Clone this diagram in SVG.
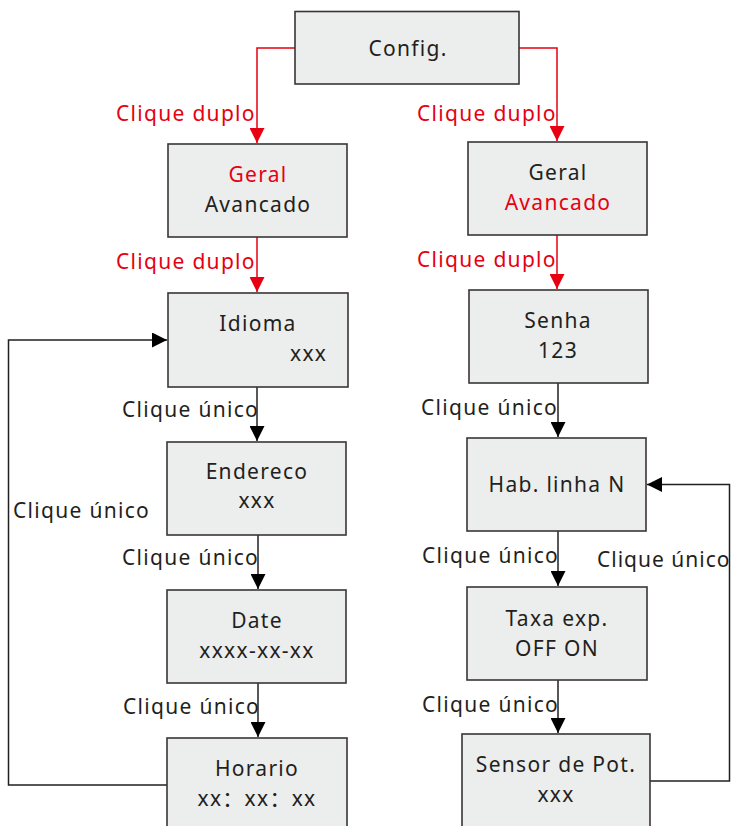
<svg xmlns="http://www.w3.org/2000/svg" width="731" height="826" viewBox="0 0 731 826">
<defs>
<style>
.box{fill:#eceded;stroke:#3a3536;stroke-width:1.6}
.t{font-family:"Noto Sans","DejaVu Sans",sans-serif;font-size:21px;letter-spacing:1.3px;fill:#231f20}
.c{text-anchor:middle}
.r{fill:#e60012}
.red{fill:none;stroke:#e60012;stroke-width:1.5}
.blk{fill:none;stroke:#231f20;stroke-width:1.5}
</style>
<marker id="ar" viewBox="0 0 10 10" refX="10" refY="5" markerWidth="15" markerHeight="15" markerUnits="userSpaceOnUse" orient="auto"><path d="M0,0L10,5L0,10z" fill="#e60012"/></marker>
<marker id="ab" viewBox="0 0 10 10" refX="10" refY="5" markerWidth="15" markerHeight="15" markerUnits="userSpaceOnUse" orient="auto"><path d="M0,0L10,5L0,10z" fill="#000"/></marker>
</defs>
<g id="connectors">
<path class="red" d="M295,48H257V143" marker-end="url(#ar)"/>
<path class="red" d="M519,48H557V141" marker-end="url(#ar)"/>
<path class="red" d="M257,237V292" marker-end="url(#ar)"/>
<path class="red" d="M557,235V289" marker-end="url(#ar)"/>
<path class="blk" d="M257,387V441" marker-end="url(#ab)"/>
<path class="blk" d="M258,535V589" marker-end="url(#ab)"/>
<path class="blk" d="M258,683V737" marker-end="url(#ab)"/>
<path class="blk" d="M167,785H8.5V340H167" marker-end="url(#ab)"/>
<path class="blk" d="M558,383V437" marker-end="url(#ab)"/>
<path class="blk" d="M558,531V586" marker-end="url(#ab)"/>
<path class="blk" d="M558,680V733" marker-end="url(#ab)"/>
<path class="blk" d="M650,781H729.5V484.5H647" marker-end="url(#ab)"/>
<text class="t r" x="116" y="121">Clique duplo</text>
<text class="t r" x="417" y="121">Clique duplo</text>
<text class="t r" x="116" y="269">Clique duplo</text>
<text class="t r" x="417" y="267">Clique duplo</text>
<text class="t" x="122" y="417">Clique único</text>
<text class="t" x="13" y="518">Clique único</text>
<text class="t" x="122" y="565">Clique único</text>
<text class="t" x="123" y="714">Clique único</text>
<text class="t" x="421" y="415">Clique único</text>
<text class="t" x="422" y="563">Clique único</text>
<text class="t" x="422" y="712">Clique único</text>
<text class="t" x="597" y="567" style="letter-spacing:1px">Clique único</text>
</g>
<g id="config"><rect class="box" x="295" y="11.5" width="224" height="72.5"/><text class="t c" x="408" y="56">Config.</text></g>
<g id="geral-left"><rect class="box" x="168" y="144" width="179" height="93"/><text class="t c r" x="258" y="182">Geral</text><text class="t c" x="258" y="212">Avancado</text></g>
<g id="geral-right"><rect class="box" x="468" y="142" width="179" height="93"/><text class="t c" x="558" y="180">Geral</text><text class="t c r" x="558" y="210">Avancado</text></g>
<g id="idioma"><rect class="box" x="168" y="293" width="180" height="94"/><text class="t c" x="258" y="331">Idioma</text><text class="t" x="290" y="361">xxx</text></g>
<g id="endereco"><rect class="box" x="167" y="442" width="179" height="93"/><text class="t c" x="257" y="479">Endereco</text><text class="t c" x="257" y="508">xxx</text></g>
<g id="date"><rect class="box" x="167" y="590" width="179" height="93"/><text class="t c" x="257" y="628">Date</text><text class="t c" x="257" y="658">xxxx-xx-xx</text></g>
<g id="horario"><rect class="box" x="167" y="738" width="180" height="100"/><text class="t c" x="257" y="776">Horario</text><text class="t c" x="257" y="806" style="font-family:'Noto Sans','Noto Sans CJK SC',sans-serif">xx：xx：xx</text></g>
<g id="senha"><rect class="box" x="469" y="290" width="179" height="93"/><text class="t c" x="558" y="328">Senha</text><text class="t c" x="558" y="358">123</text></g>
<g id="hab"><rect class="box" x="467" y="438" width="179" height="93"/><text class="t c" x="557" y="492">Hab. linha N</text></g>
<g id="taxa"><rect class="box" x="467" y="587" width="180" height="93"/><text class="t c" x="557" y="626">Taxa exp.</text><text class="t c" x="557" y="656">OFF ON</text></g>
<g id="sensor"><rect class="box" x="462" y="734" width="188" height="100"/><text class="t c" x="556" y="772">Sensor de Pot.</text><text class="t c" x="556" y="802">xxx</text></g>
</svg>
